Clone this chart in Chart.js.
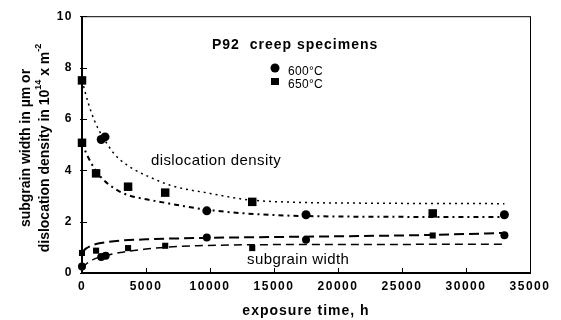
<!DOCTYPE html>
<html>
<head>
<meta charset="utf-8">
<script src="https://cdn.jsdelivr.net/npm/chart.js@4.4.0/dist/chart.umd.min.js"></script>
<style>
  html, body { margin: 0; padding: 0; background: #fff; }
  #wrap { width: 561px; height: 320px; }
</style>
</head>
<body>
<div id="wrap"><canvas id="myChart" width="561" height="320"></canvas></div>
<script>
// measured points (exposure time in h)
const dd600X = [1500, 1800, 9750, 17500, 33000];
const dd600Y = [5.2, 5.3, 2.42, 2.27, 2.27];
const dd650X = [0, 0, 1100, 3600, 6500, 13300, 27400];
const dd650Y = [7.5, 5.07, 3.88, 3.36, 3.13, 2.77, 2.32];
const sg600X = [0, 1500, 1850, 9750, 17500, 33000];
const sg600Y = [0.25, 0.62, 0.67, 1.38, 1.29, 1.47];
const sg650X = [0, 1100, 3600, 6500, 13300, 27400];
const sg650Y = [0.78, 0.87, 0.97, 1.06, 0.97, 1.46];

// fitted curves
const fit1X = [0, 500, 1000, 1500, 2000, 2500, 3000, 4000, 5000, 7000, 10000, 13000, 17000, 22000, 33000];
const fit1Y = [7.5, 6.6, 5.9, 5.4, 5.0, 4.65, 4.4, 4.05, 3.8, 3.4, 3.1, 2.85, 2.75, 2.72, 2.7];
const fit2X = [0, 300, 700, 1000, 1500, 2500, 3500, 5000, 6000, 8000, 10000, 14000, 20000, 33000];
const fit2Y = [5.1, 4.7, 4.3, 4.05, 3.72, 3.3, 3.05, 2.87, 2.78, 2.6, 2.45, 2.28, 2.2, 2.18];
const fit3X = [0, 300, 800, 1500, 2500, 5000, 10000, 15000, 20000, 27000, 33000];
const fit3Y = [0.8, 0.95, 1.08, 1.17, 1.24, 1.31, 1.37, 1.4, 1.43, 1.48, 1.56];
const fit4X = [0, 400, 900, 1700, 3000, 5000, 6500, 9000, 13000, 20000, 33000];
const fit4Y = [0.2, 0.38, 0.53, 0.66, 0.8, 0.93, 1.0, 1.06, 1.1, 1.11, 1.12];

const xTicks = [0, 5000, 10000, 15000, 20000, 25000, 30000, 35000];
const yTicks = [0, 2, 4, 6, 8, 10];

const pts = (xs, ys) => xs.map((x, i) => ({x: x, y: ys[i]}));

function curve(xs, ys, dash, w) {
    return {
        type: 'line', data: pts(xs, ys), borderColor: '#000', borderWidth: w,
        borderDash: dash, pointRadius: 0, cubicInterpolationMode: 'monotone', fill: false
    };
}
function marks(xs, ys, style, r) {
    return {
        type: 'scatter', data: pts(xs, ys), pointStyle: style, pointRadius: r,
        backgroundColor: '#000', borderColor: '#000', borderWidth: 0, clip: false
    };
}

const FONT = '"Liberation Sans", Arial, sans-serif';

const decor = {
    id: 'decor',
    beforeDraw(chart) {
        chart.ctx.letterSpacing = '1.5px';
    },
    afterDraw(chart) {
        const c = chart.ctx, a = chart.chartArea;
        const xs = chart.scales.x, ys = chart.scales.y;
        c.save();
        c.letterSpacing = '0px';
        c.strokeStyle = '#000';
        c.lineWidth = 1;
        c.strokeRect(a.left + 0.5, a.top + 0.5, a.right - a.left, a.bottom - a.top);
        c.lineWidth = 2;
        c.beginPath();
        c.moveTo(a.left, a.top); c.lineTo(a.left, a.bottom); c.lineTo(a.right, a.bottom);
        c.stroke();
        c.lineWidth = 1;
        c.beginPath();
        xTicks.forEach(v => { const p = Math.round(xs.getPixelForValue(v)) + 0.5; c.moveTo(p, a.bottom); c.lineTo(p, a.bottom - 5); });
        yTicks.forEach(v => { const p = Math.round(ys.getPixelForValue(v)) + 0.5; c.moveTo(a.left - 2, p); c.lineTo(a.left + 5, p); });
        c.stroke();

        c.fillStyle = '#000';
        c.textBaseline = 'middle';
        c.textAlign = 'left';
        c.letterSpacing = '1px';
        c.font = 'bold 14px ' + FONT;
        c.fillText('P92  creep specimens', 212, 45);
        c.letterSpacing = '0.3px';
        c.font = '12px ' + FONT;
        c.fillText('600\u00B0C', 288, 72);
        c.fillText('650\u00B0C', 288, 85);
        c.beginPath(); c.arc(275, 68, 4.5, 0, Math.PI * 2); c.fill();
        c.fillRect(271, 78, 8, 7);
        c.letterSpacing = '0.4px';
        c.font = '15px ' + FONT;
        c.fillText('dislocation density', 151, 161);
        c.fillText('subgrain width', 247, 260);

        c.textAlign = 'center';
        c.letterSpacing = '1px';
        c.font = 'bold 14px ' + FONT;
        c.fillText('exposure time, h', 306, 311);

        // y title, two rotated lines with superscripts
        c.letterSpacing = '0px';
        const lines = [
            [['subgrain width in \u00B5m or', 0]],
            [['dislocation density in 10', 0], ['14', 1], [' x m', 0], ['-2', 1]]
        ];
        const cx = [26, 45];
        const big = 'bold 14px ' + FONT;
        const small = 'bold 9px ' + FONT;
        lines.forEach((parts, li) => {
            let total = 0;
            parts.forEach(p => { c.font = p[1] ? small : big; total += c.measureText(p[0]).width; });
            c.save();
            c.translate(cx[li], 148);
            c.rotate(-Math.PI / 2);
            c.textAlign = 'left';
            let xx = -total / 2;
            parts.forEach(p => {
                c.font = p[1] ? small : big;
                c.fillText(p[0], xx, p[1] ? -6 : 0);
                xx += c.measureText(p[0]).width;
            });
            c.restore();
        });
        c.restore();
    }
};

const tickFont = { family: FONT, size: 12, weight: 'bold' };

const ctx = document.getElementById('myChart').getContext('2d');
new Chart(ctx, {
    data: {
        datasets: [
            curve(fit1X, fit1Y, [2, 4], 1.5),
            curve(fit2X, fit2Y, [5, 4, 2, 4], 2),
            curve(fit3X, fit3Y, [10, 5], 2),
            curve(fit4X, fit4Y, [8, 5], 1.5),
            marks(dd600X, dd600Y, 'circle', 4.5),
            marks(dd650X, dd650Y, 'rect', 6),
            marks(sg600X, sg600Y, 'circle', 4),
            marks(sg650X, sg650Y, 'rect', 4.3)
        ]
    },
    options: {
        responsive: false,
        animation: false,
        layout: { padding: { top: 16, right: 31, bottom: 0, left: 0 } },
        plugins: { legend: { display: false }, tooltip: { enabled: false } },
        scales: {
            x: {
                type: 'linear', min: 0, max: 35000,
                afterBuildTicks: s => { s.ticks = xTicks.map(v => ({value: v})); },
                afterFit: s => { s.height = 47; },
                grid: { display: false, drawTicks: false },
                border: { display: false },
                ticks: { padding: 6, color: '#000', maxRotation: 0, autoSkip: false,
                    callback: v => String(v), font: tickFont }
            },
            y: {
                type: 'linear', min: 0, max: 10,
                afterBuildTicks: s => { s.ticks = yTicks.map(v => ({value: v})); },
                afterFit: s => { s.width = 82; },
                grid: { display: false, drawTicks: false },
                border: { display: false },
                ticks: { padding: 9, color: '#000', callback: v => String(v), font: tickFont }
            }
        }
    },
    plugins: [decor]
});
</script>
</body>
</html>
